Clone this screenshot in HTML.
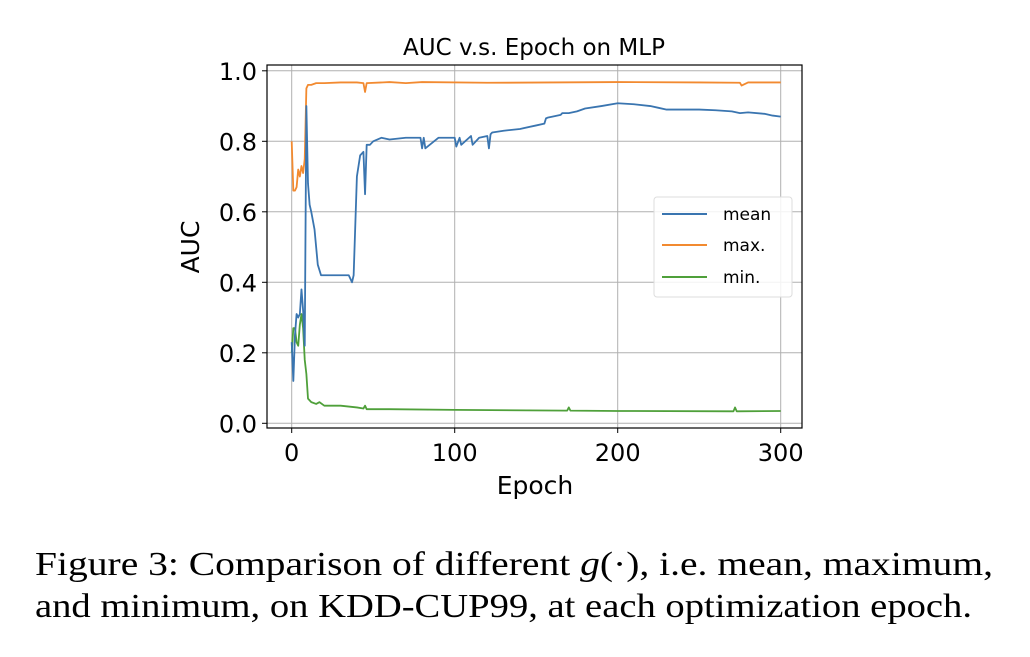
<!DOCTYPE html>
<html><head><meta charset="utf-8"><style>
body{margin:0;background:#fff;width:1030px;height:652px;overflow:hidden}
svg text{font-family:"DejaVu Sans","Liberation Sans",sans-serif}
</style></head><body>
<svg width="1030" height="652">
<g id="grid"></g>
<g id="series"></g>
<rect x="267" y="65" width="535" height="363" fill="none" stroke="#000" stroke-width="1.2"/>
<g id="ticks"></g>
<text x="534" y="55" font-size="23" text-anchor="middle">AUC v.s. Epoch on MLP</text>
<text x="535" y="494" font-size="25" text-anchor="middle">Epoch</text>
<text transform="translate(199,247) rotate(-90)" font-size="25" text-anchor="middle">AUC</text>
<g>
<rect x="654" y="197" width="138" height="100" rx="3" fill="#fff" fill-opacity="0.85" stroke="#ddd"/>
<line x1="662" y1="214" x2="707" y2="214" stroke="#3a75b0" stroke-width="2"/>
<text x="723" y="220" font-size="17">mean</text>
<line x1="662" y1="245" x2="707" y2="245" stroke="#f28a30" stroke-width="2"/>
<text x="723" y="251" font-size="17">max.</text>
<line x1="662" y1="277" x2="707" y2="277" stroke="#4fa03a" stroke-width="2"/>
<text x="723" y="283" font-size="17">min.</text>
</g>
<text x="35" y="575" font-size="34" textLength="958" lengthAdjust="spacingAndGlyphs" style="font-family:'Liberation Serif',serif">Figure 3: Comparison of different <tspan font-style="italic">g</tspan>(·), i.e. mean, maximum,</text>
<text x="35" y="617" font-size="34" textLength="937" lengthAdjust="spacingAndGlyphs" style="font-family:'Liberation Serif',serif">and minimum, on KDD-CUP99, at each optimization epoch.</text>
</svg>
<script>
const xTicks=[0,100,200,300];
const yTicks=[0.0,0.2,0.4,0.6,0.8,1.0];
const meanEpochs=[0,1,2,3,4,5,6,7,8,9,10,11,12,14,16,18,22,26,30,35,36,37,38,40,42,44,45,46,48,50,55,60,70,79,80,81,82,90,100,101,103,104,110,111,115,120,121,122,123,130,140,150,155,156,157,160,165,166,170,175,180,190,200,210,220,225,230,240,250,260,270,275,280,290,295,300];
const meanValues=[0.23,0.12,0.25,0.31,0.30,0.31,0.38,0.32,0.22,0.90,0.68,0.62,0.60,0.55,0.45,0.42,0.42,0.42,0.42,0.42,0.41,0.40,0.42,0.70,0.76,0.77,0.65,0.79,0.79,0.80,0.81,0.805,0.81,0.81,0.78,0.81,0.78,0.81,0.81,0.785,0.81,0.79,0.815,0.79,0.81,0.815,0.78,0.82,0.825,0.83,0.835,0.845,0.85,0.865,0.867,0.87,0.875,0.88,0.88,0.885,0.893,0.90,0.908,0.905,0.90,0.895,0.89,0.89,0.89,0.888,0.885,0.88,0.882,0.878,0.873,0.87];
const maxEpochs=[0,1,2,3,4,5,6,7,8,9,10,12,15,20,30,40,44,45,46,60,70,80,120,200,250,275,276,280,300];
const maxValues=[0.80,0.66,0.66,0.67,0.72,0.70,0.73,0.71,0.75,0.95,0.96,0.96,0.965,0.965,0.967,0.967,0.965,0.94,0.965,0.968,0.965,0.968,0.966,0.968,0.967,0.966,0.958,0.967,0.967];
const minEpochs=[0,1,2,3,4,5,6,7,8,9,10,12,15,17,20,30,40,44,45,46,60,100,169,170,171,200,271,272,273,300];
const minValues=[0.20,0.27,0.27,0.23,0.22,0.28,0.31,0.27,0.18,0.14,0.07,0.06,0.055,0.06,0.05,0.05,0.045,0.042,0.05,0.04,0.04,0.038,0.036,0.045,0.036,0.035,0.034,0.045,0.034,0.035];
const NS='http://www.w3.org/2000/svg';
const X=e=>291.7+1.63*e, Y=v=>423.3-352.5*v;
const grid=document.getElementById('grid'),ticks=document.getElementById('ticks'),ser=document.getElementById('series');
function mk(tag,attrs,parent){const el=document.createElementNS(NS,tag);for(const k in attrs)el.setAttribute(k,attrs[k]);parent.appendChild(el);return el;}
xTicks.forEach(t=>{
 const g=mk('line',{x1:X(t),x2:X(t),y1:65,y2:428,stroke:'#b0b0b0','stroke-width':1},grid);
 
 
 const tk=mk('line',{x1:X(t),x2:X(t),y1:428,y2:433,stroke:'#000'},ticks);
 
 
 const tx=mk('text',{x:X(t),y:461,'font-size':24,'text-anchor':'middle'},ticks);tx.textContent=t;
 
 
});
yTicks.forEach(t=>{
 const g=mk('line',{x1:267,x2:802,y1:Y(t),y2:Y(t),stroke:'#b0b0b0','stroke-width':1},grid);
 
 
 const tk=mk('line',{x1:262,x2:267,y1:Y(t),y2:Y(t),stroke:'#000'},ticks);
 
 
 const tx=mk('text',{x:257,y:Y(t)+9,'font-size':24,'text-anchor':'end'},ticks);tx.textContent=t.toFixed(1);
 
 
});
function line(ep,vals,color,name){
 const p=mk('polyline',{points:ep.map((e,i)=>X(e)+','+Y(vals[i])).join(' '),fill:'none',stroke:color,'stroke-width':1.8,'stroke-linejoin':'round'},ser);
 
 
}
line(maxEpochs,maxValues,'#f28a30','max-line');
line(minEpochs,minValues,'#4fa03a','min-line');
line(meanEpochs,meanValues,'#3a75b0','mean-line');
</script>
</body></html>
